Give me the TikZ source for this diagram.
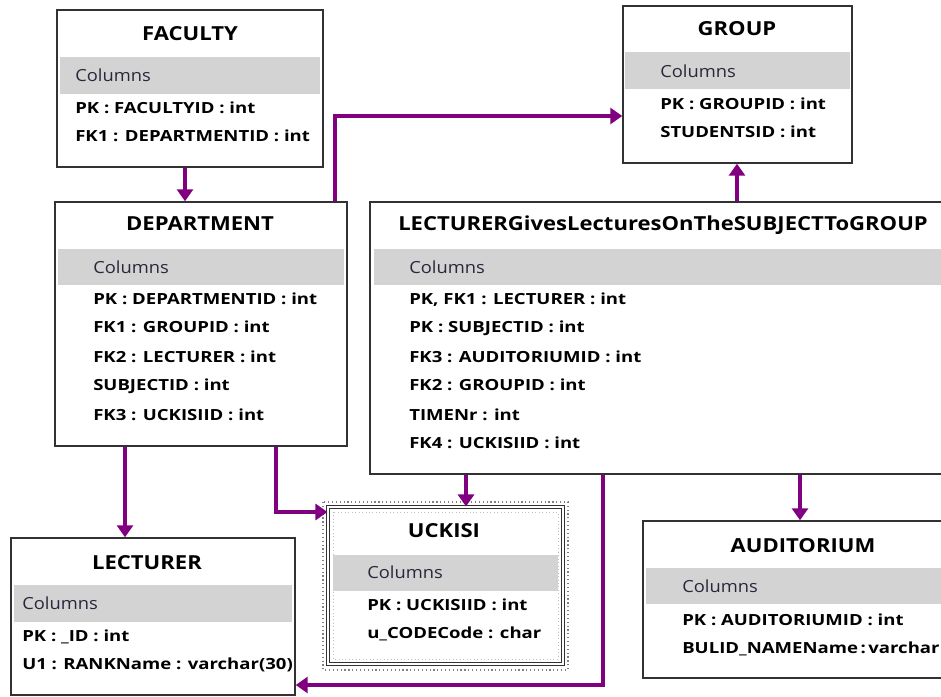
\documentclass[tikz,border=0pt]{standalone}
\usepackage{fontspec}
\setmainfont{Open Sans}
\newfontfamily\ttlfont{Open Sans}[FakeStretch=1.14]
\newfontfamily\fldfont{Open Sans}[FakeStretch=1.21]
\newfontfamily\colfont{Open Sans}[FakeStretch=1.1]
\usetikzlibrary{arrows.meta,fit}
\definecolor{rel}{RGB}{128,0,128}
\definecolor{band}{RGB}{211,211,211}
\definecolor{frame}{RGB}{50,50,50}
\definecolor{coltext}{RGB}{40,40,60}
\tikzset{
 tbox/.style={draw=frame, line width=1.1pt, inner sep=0pt, fill=white},
 bandbox/.style={fill=band, inner sep=0pt},
 ttl/.style={font=\ttlfont\bfseries\fontsize{14.5}{16}\selectfont, inner sep=0pt, anchor=base},
 colhead/.style={font=\colfont\fontsize{12.5}{14}\selectfont, text=coltext, inner sep=0pt, anchor=base west},
 fld/.style={font=\fldfont\bfseries\fontsize{11.5}{13}\selectfont, inner sep=0pt, anchor=base west},
 conn/.style={draw=rel, line width=2.3pt, -{Triangle[width=12pt,length=9pt]}},
}
\begin{document}
\begin{tikzpicture}[x=0.75pt,y=-0.75pt]
\useasboundingbox (0,0) rectangle (941,696);

% FACULTY
\node[tbox, fit={(57,10) (323,167)}] (fac) {};
\node[bandbox, fit={(60,57) (320,94)}] (facband) {};
\node[ttl] (factitle) at (190,40) {FACULTY};
\node[colhead] (faccol) at (75,81) {Columns};
\node[fld] (facr1) at (75,113) {PK : FACULTYID : int};
\node[fld] (facr2) at (75,141) {FK1 : DEPARTMENTID : int};

% GROUP
\node[tbox, fit={(623,6) (852,163)}] (grp) {};
\node[bandbox, fit={(625,52) (850,89)}] (grpband) {};
\node[ttl] (grptitle) at (737,35) {GROUP};
\node[colhead] (grpcol) at (660,77) {Columns};
\node[fld] (grpr1) at (660,109) {PK : GROUPID : int};
\node[fld] (grpr2) at (660,137) {STUDENTSID : int};

% DEPARTMENT
\node[tbox, fit={(55,202) (347,446)}] (dep) {};
\node[bandbox, fit={(58,249) (344,285)}] (depband) {};
\node[ttl] (deptitle) at (200,230) {DEPARTMENT};
\node[colhead] (depcol) at (93,273) {Columns};
\node[fld] (depr1) at (93,304) {PK : DEPARTMENTID : int};
\node[fld] (depr2) at (93,332) {FK1 : GROUPID : int};
\node[fld] (depr3) at (93,362) {FK2 : LECTURER : int};
\node[fld] (depr4) at (93,390) {SUBJECTID : int};
\node[fld] (depr5) at (93,420) {FK3 : UCKISIID : int};

% LECTURERGivesLecturesOnTheSUBJECTToGROUP
\node[tbox, fit={(370,202) (948,474)}] (lg) {};
\node[bandbox, fit={(374,249) (944,285)}] (lgband) {};
\node[ttl, anchor=base west] (lgtitle) at (398,230) {LECTURERGivesLecturesOnTheSUBJECTToGROUP};
\node[colhead] (lgcol) at (409,273) {Columns};
\node[fld] (lgr1) at (409,304) {PK, FK1 : LECTURER : int};
\node[fld] (lgr2) at (409,332) {PK : SUBJECTID : int};
\node[fld] (lgr3) at (409,362) {FK3 : AUDITORIUMID : int};
\node[fld] (lgr4) at (409,390) {FK2 : GROUPID : int};
\node[fld] (lgr5) at (409,420) {TIMENr : int};
\node[fld] (lgr6) at (409,448) {FK4 : UCKISIID : int};

% LECTURER
\node[tbox, fit={(11,538) (295,695)}] (lec) {};
\node[bandbox, fit={(14,585) (292,622)}] (lecband) {};
\node[ttl] (lectitle) at (147,569) {LECTURER};
\node[colhead] (leccol) at (22,609) {Columns};
\node[fld] (lecr1) at (22,641) {PK : \_ID : int};
\node[fld] (lecr2) at (22,669) {U1 : RANKName : varchar(30)};

% UCKISI
\draw[gray, line width=0.9pt, dotted] (323,502) rectangle (568,670);
\node[tbox, double=white, double distance=1.2pt, line width=0.8pt, fit={(328,507) (563,664)}] (uck) {};
\draw[gray!50, line width=0.6pt, dotted] (333,512) rectangle (558,659);
\node[bandbox, fit={(333,555) (558,591)}] (uckband) {};
\node[ttl] (ucktitle) at (444,537) {UCKISI};
\node[colhead] (uckcol) at (367,578) {Columns};
\node[fld] (uckr1) at (367,610) {PK : UCKISIID : int};
\node[fld] (uckr2) at (367,638) {u\_CODECode : char};

% AUDITORIUM
\node[tbox, fit={(643,521) (948,678)}] (aud) {};
\node[bandbox, fit={(646,568) (944,604)}] (audband) {};
\node[ttl] (audtitle) at (803,552) {AUDITORIUM};
\node[colhead] (audcol) at (682,592) {Columns};
\node[fld] (audr1) at (682,625) {PK : AUDITORIUMID : int};
\node[fld] (audr2) at (682,653) {BULID\_NAMEName\,:\,varchar};

% connector x / y positions
\coordinate (xa) at (185,0);
\coordinate (xb) at (335,0);
\coordinate (yb) at (0,116);
\coordinate (xc) at (737,0);
\coordinate (xd) at (125,0);
\coordinate (xe) at (276,0);
\coordinate (ye) at (0,512);
\coordinate (xf) at (466,0);
\coordinate (xg) at (603,0);
\coordinate (yg) at (0,685);
\coordinate (xh) at (800,0);

\draw[conn] (fac.south -| xa) -- (dep.north -| xa);
\draw[conn] (dep.north -| xb) |- (grp.west |- yb);
\draw[conn] (lg.north -| xc) -- (grp.south -| xc);
\draw[conn] (dep.south -| xd) -- (lec.north -| xd);
\draw[conn] (dep.south -| xe) |- (uck.west |- ye);
\draw[conn] (lg.south -| xf) -- (uck.north -| xf);
\draw[conn] (lg.south -| xg) |- (lec.east |- yg);
\draw[conn] (lg.south -| xh) -- (aud.north -| xh);
\end{tikzpicture}
\end{document}
